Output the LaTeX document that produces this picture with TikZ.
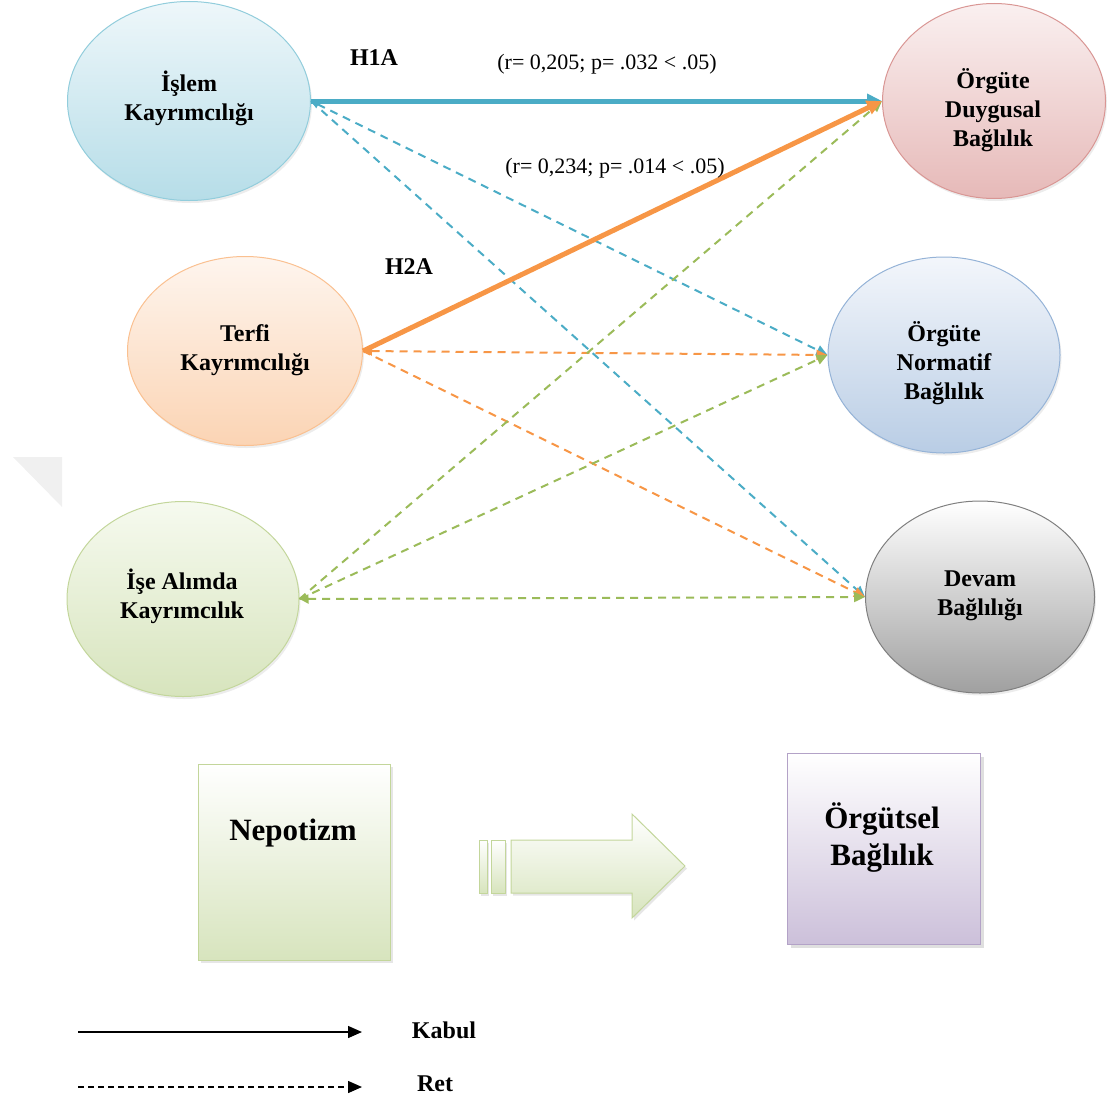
\documentclass[tikz,border=0pt]{standalone}
\usepackage{fontspec}
\setmainfont{Liberation Serif}
\usetikzlibrary{shapes.geometric,arrows.meta,shadows}
\definecolor{blueL}{HTML}{4BACC6}
\definecolor{orangeL}{HTML}{F79646}
\definecolor{greenL}{HTML}{9BBB59}
\definecolor{islemD}{HTML}{92CDDC}\definecolor{islemT}{HTML}{EEF7FA}\definecolor{islemB}{HTML}{B6DDE8}
\definecolor{duygD}{HTML}{D99694}\definecolor{duygT}{HTML}{FAF0F0}\definecolor{duygB}{HTML}{E6B9B8}
\definecolor{terfiD}{HTML}{FAC090}\definecolor{terfiT}{HTML}{FEF5EE}\definecolor{terfiB}{HTML}{FBD4B4}
\definecolor{normD}{HTML}{95B3D7}\definecolor{normT}{HTML}{F3F6FB}\definecolor{normB}{HTML}{B9CDE5}
\definecolor{iseD}{HTML}{C3D69B}\definecolor{iseT}{HTML}{F6FAEF}\definecolor{iseB}{HTML}{D7E4BD}
\definecolor{devD}{HTML}{7F7F7F}\definecolor{devT}{HTML}{FFFFFF}\definecolor{devB}{HTML}{A0A0A0}
\definecolor{purD}{HTML}{B3A2C7}\definecolor{purB}{HTML}{CCC0DA}
\begin{document}
\begin{tikzpicture}[x=1pt,y=-1pt,
  ell/.style={ellipse, inner sep=0pt, line width=1pt,
    drop shadow={shadow xshift=1.5pt,shadow yshift=-2.5pt,opacity=0.15}},
  elltxt/.style={align=center, inner sep=0pt, font=\fontsize{24}{29}\selectfont\bfseries},
  bigtip/.style={-{Triangle[length=15pt,width=14pt]}},
  dtip/.style={-{Triangle[length=11pt,width=10pt]}},
  dline/.style={line width=2pt, dash pattern=on 8pt off 6pt},
  thick line/.style={line width=5pt},
  lbl/.style={font=\fontsize{24}{28}\selectfont\bfseries, inner sep=0pt},
  stat/.style={font=\fontsize{22}{26}\selectfont, inner sep=0pt},
  boxtxt/.style={font=\fontsize{31}{37}\selectfont\bfseries, align=center, inner sep=0pt},
  legtxt/.style={font=\fontsize{24}{28}\selectfont\bfseries, inner sep=0pt}
]
\useasboundingbox (0,0) rectangle (1107,1100);

% faint watermark corner
\fill[black!6] (13,457) -- (62,457) -- (62,507) -- cycle;

% ellipses
\node[ell, minimum width=243pt, minimum height=199pt, draw=islemD, top color=islemT, bottom color=islemB] (islem) at (189,101) {};
\node[ell, minimum width=223pt, minimum height=195pt, draw=duygD, top color=duygT, bottom color=duygB] (duyg) at (994,101) {};
\node[ell, minimum width=235pt, minimum height=189pt, draw=terfiD, top color=terfiT, bottom color=terfiB] (terfi) at (245,351) {};
\node[ell, minimum width=232pt, minimum height=196pt, draw=normD, top color=normT, bottom color=normB] (norm) at (944,355) {};
\node[ell, minimum width=232pt, minimum height=195pt, draw=iseD, top color=iseT, bottom color=iseB] (ise) at (183,599) {};
\node[ell, minimum width=229pt, minimum height=192pt, draw=devD, top color=devT, bottom color=devB] (devam) at (980,597) {};

\node[elltxt] (islemtxt) at (189,98) {İşlem\\Kayrımcılığı};
\node[elltxt] (duygtxt) at (993,110) {Örgüte\\Duygusal\\Bağlılık};
\node[elltxt] (terfitxt) at (245,350) {Terfi\\Kayrımcılığı};
\node[elltxt] (normtxt) at (944,363) {Örgüte\\Normatif\\Bağlılık};
\node[elltxt] (isetxt) at (182,596) {İşe Alımda\\Kayrımcılık};
\node[elltxt] (devamtxt) at (980,596) {Devam\\Bağlılığı};

% connectors
\draw[blueL, dline, {Triangle[length=8pt,width=8pt]}-{Triangle[length=11pt,width=10pt]}] (islem.east) -- (norm.west);
\draw[blueL, dline, dtip] (islem.east) -- (devam.west);
\draw[orangeL, dline, {Triangle[length=9pt,width=9pt]}-{Triangle[length=11pt,width=10pt]}] (terfi.east) -- (norm.west);
\draw[orangeL, dline, dtip] (terfi.east) -- (devam.west);
\draw[greenL, dline, dtip] (ise.east) -- (duyg.west);
\draw[greenL, dline, dtip] (ise.east) -- (norm.west);
\draw[greenL, dline, {Triangle[length=9pt,width=9pt]}-{Triangle[length=11pt,width=10pt]}] (ise.east) -- (devam.west);
\draw[blueL, thick line, bigtip] (islem.east) -- (duyg.west);
\draw[orangeL, thick line, bigtip] (terfi.east) -- (duyg.west);

% labels
\node[lbl] (h1a) at (374,58) {H1A};
\node[lbl] (h2a) at (409,267) {H2A};
\node[stat] (s1) at (607,64) {(r= 0,205; p= .032 < .05)};
\node[stat] (s2) at (615,168) {(r= 0,234; p= .014 < .05)};

% bottom boxes
\node[draw=iseD, line width=1pt, top color=white, bottom color=iseB, minimum width=192pt, minimum height=196pt, anchor=north west, inner sep=0pt,
  drop shadow={shadow xshift=2pt,shadow yshift=-2.5pt,opacity=0.2}] (nep) at (198,764) {};
\node[boxtxt] (neptxt) at (293,833) {Nepotizm};
\node[draw=purD, line width=1pt, top color=white, bottom color=purB, minimum width=193pt, minimum height=191pt, anchor=north west, inner sep=0pt,
  drop shadow={shadow xshift=3pt,shadow yshift=-3pt,opacity=0.25}] (org) at (787,753) {};
\node[boxtxt] (orgtxt) at (882,838) {Örgütsel\\Bağlılık};

% block arrow
\path[draw=iseD, line width=1pt, top color=white, bottom color=iseB,
  drop shadow={shadow xshift=2pt,shadow yshift=-2.5pt,opacity=0.2}]
  (511,840) -- (632,840) -- (632,814) -- (685,866) -- (632,918) -- (632,893) -- (511,893) -- cycle;
\path[draw=iseD, line width=1pt, top color=white, bottom color=iseB,
  drop shadow={shadow xshift=2pt,shadow yshift=-2.5pt,opacity=0.2}] (491,840) rectangle (505,893);
\path[draw=iseD, line width=1pt, top color=white, bottom color=iseB,
  drop shadow={shadow xshift=2pt,shadow yshift=-2.5pt,opacity=0.2}] (479,840) rectangle (487,893);

% legend
\coordinate (k1) at (78,1032);
\coordinate (k2) at (362,1032);
\coordinate (r1) at (78,1087);
\coordinate (r2) at (362,1087);
\draw[line width=1.4pt, -{Triangle[length=14pt,width=12pt]}] (k1) -- (k2);
\draw[line width=1.4pt, dash pattern=on 6pt off 4pt, -{Triangle[length=14pt,width=12pt]}] (r1) -- (r2);
\node[legtxt] (kabul) at (444,1030) {Kabul};
\node[legtxt] (ret) at (435,1084) {Ret};
\end{tikzpicture}
\end{document}
